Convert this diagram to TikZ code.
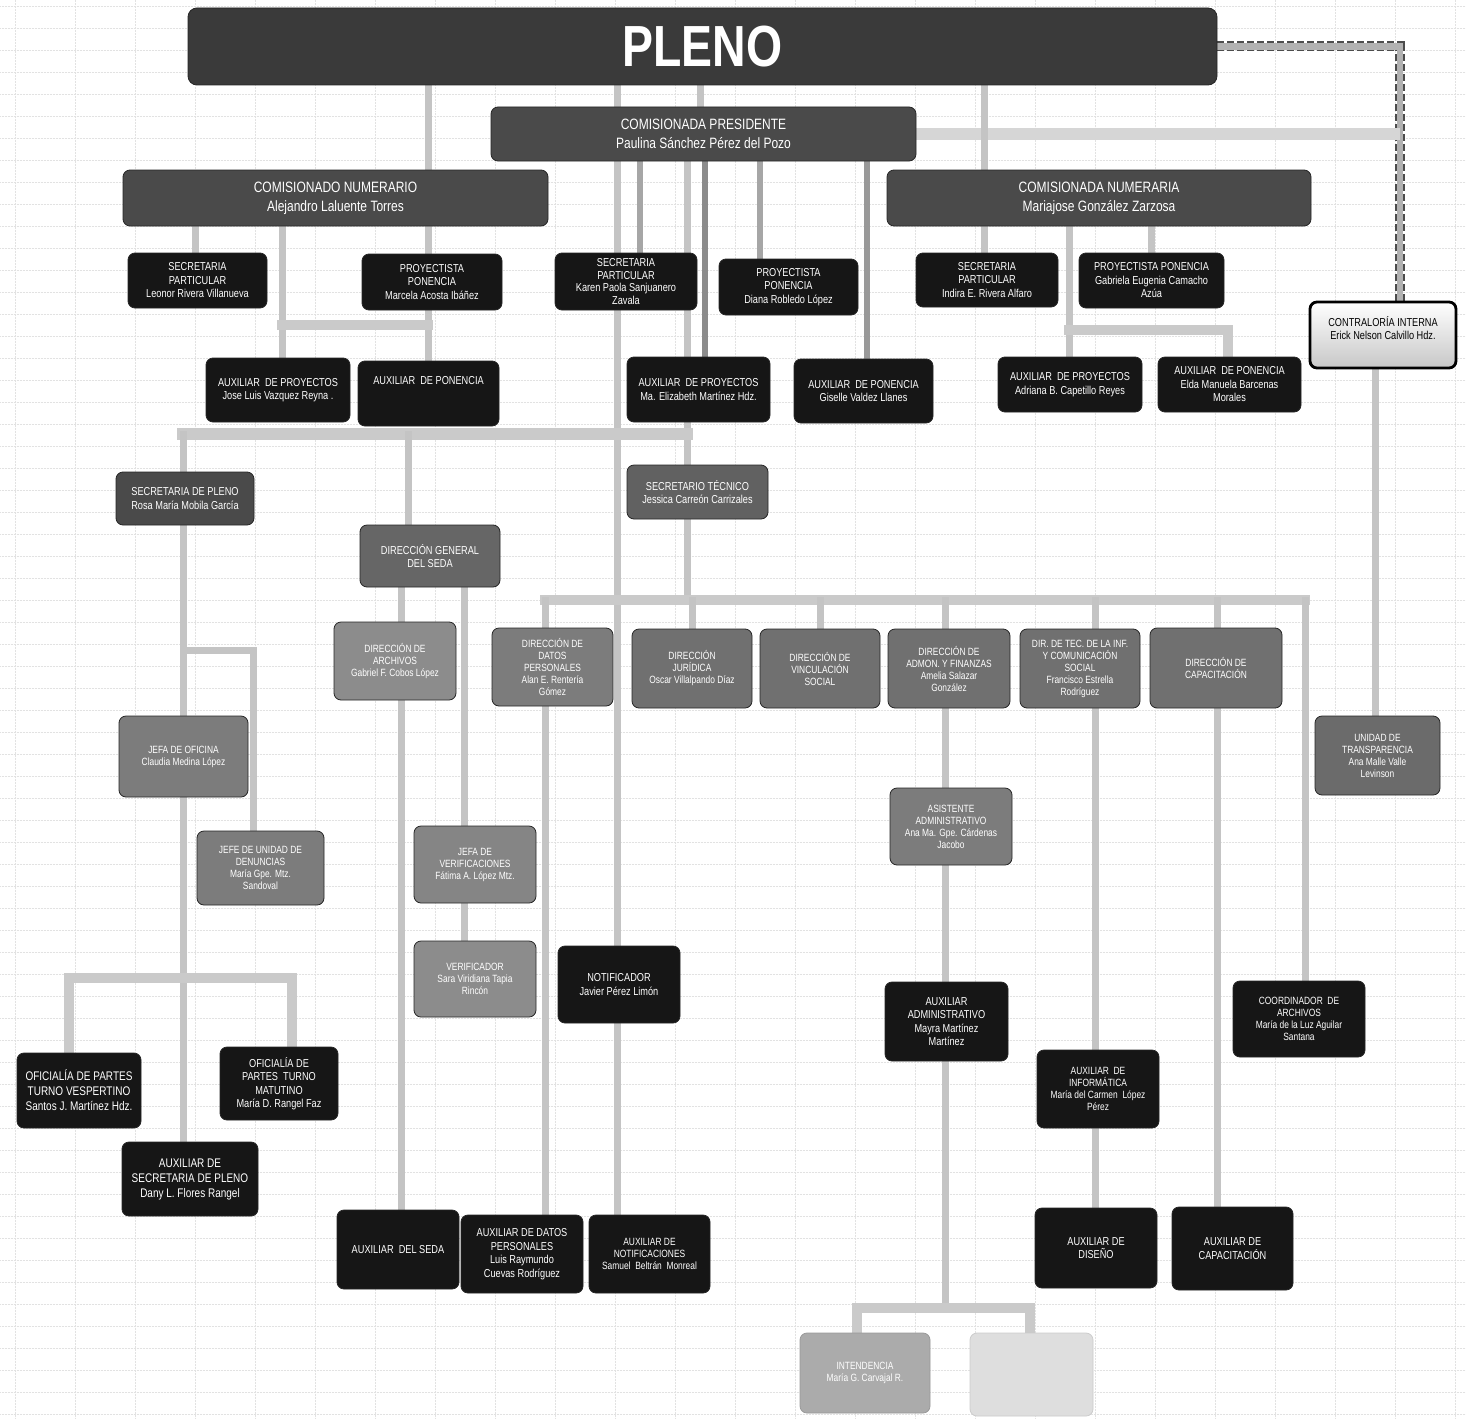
\documentclass[tikz,border=0pt]{standalone}
\usepackage{fontspec}
\newfontfamily\nar[FakeStretch=0.8]{Liberation Sans}
\usetikzlibrary{backgrounds}
\definecolor{cpleno}{HTML}{3A3A3A}
\definecolor{chead}{HTML}{4A4A4A}
\definecolor{cblk}{HTML}{161616}
\definecolor{cdir}{HTML}{707070}
\definecolor{cmid}{HTML}{7C7C7C}
\definecolor{clt}{HTML}{8C8C8C}
\definecolor{cline}{HTML}{C4C4C4}
\definecolor{cgrid}{HTML}{E2E2E2}
\tikzset{
  box/.style={draw=black!85, line width=0.8pt, rounded corners=7pt, text=white, align=center,
    inner sep=1pt, font=\nar\fontsize{11.5}{13.5}\selectfont},
  wh/.style 2 args={minimum width=#1pt, minimum height=#2pt},
  dirf/.style={font=\nar\fontsize{10.5}{12}\selectfont},
  headf/.style={font=\nar\fontsize{15}{19}\selectfont},
  conn/.style={draw=cline, line width=7pt, line cap=rect},
  connd/.style={draw=black!45, line width=6pt},
  band/.style={draw=cline!90, line width=10pt, line cap=rect, line join=miter},
  gridl/.style={draw=cgrid, line width=0.5pt, densely dotted},
}
\begin{document}
\begin{tikzpicture}[x=1pt,y=-1pt]
\useasboundingbox (0,0) rectangle (1466,1418);

% ---------------- nodes ----------------
\node[box, fill=cpleno, wh={1029}{77}, rounded corners=9pt,
  font=\nar\bfseries\fontsize{58}{58}\selectfont] (pleno) at (702.5,46.5) {PLENO};
\node[box, fill=chead, wh={425}{54}, headf] (pres) at (703.5,134) {COMISIONADA PRESIDENTE\\Paulina Sánchez Pérez del Pozo};
\node[box, fill=chead, wh={425}{56}, headf] (numL) at (335.5,198) {COMISIONADO NUMERARIO\\Alejandro Laluente Torres};
\node[box, fill=chead, wh={424}{56}, headf] (numR) at (1099,198) {COMISIONADA NUMERARIA\\Mariajose González Zarzosa};

\node[box, fill=cblk, wh={139}{55}] (spL) at (197.5,280.5) {SECRETARIA\\PARTICULAR\\Leonor Rivera Villanueva};
\node[box, fill=cblk, wh={140}{56}] (ppL) at (432,282) {PROYECTISTA\\PONENCIA\\Marcela Acosta Ibáñez};
\node[box, fill=cblk, wh={144}{64}] (apL) at (278,390) {AUXILIAR \ DE PROYECTOS\\Jose Luis Vazquez Reyna .};
\node[box, fill=cblk, wh={141}{65}] (aponL) at (428.5,393.5) {AUXILIAR \ DE PONENCIA\\ ~ \\ ~};

\node[box, fill=cblk, wh={142}{57}, font=\nar\fontsize{11.5}{12.6}\selectfont] (spC) at (626,281.5) {SECRETARIA\\PARTICULAR\\Karen Paola Sanjuanero\\Zavala};
\node[box, fill=cblk, wh={139}{56}] (ppC) at (788.5,287) {PROYECTISTA\\PONENCIA\\Diana Robledo López};
\node[box, fill=cblk, wh={143}{65}] (apC) at (698.5,389.5) {AUXILIAR \ DE PROYECTOS\\Ma. Elizabeth Martínez Hdz.};
\node[box, fill=cblk, wh={139}{64}] (aponC) at (863.5,391) {AUXILIAR \ DE PONENCIA\\Giselle Valdez Llanes};

\node[box, fill=cblk, wh={142}{54}] (spR) at (987,280) {SECRETARIA\\PARTICULAR\\Indira E. Rivera Alfaro};
\node[box, fill=cblk, wh={145}{55}] (ppR) at (1151.5,280.5) {PROYECTISTA PONENCIA\\Gabriela Eugenia Camacho\\Azúa};
\node[box, fill=cblk, wh={144}{55}] (apR) at (1070,384.5) {AUXILIAR \ DE PROYECTOS\\Adriana B. Capetillo Reyes};
\node[box, fill=cblk, wh={143}{55}] (aponR) at (1229.5,384.5) {AUXILIAR \ DE PONENCIA\\Elda Manuela Barcenas\\Morales};

\node[box, draw=black, line width=2.8pt, top color=white, bottom color=black!22, text=black,
  wh={146}{66}] (contra) at (1383,335) {CONTRALORÍA INTERNA\\Erick Nelson Calvillo Hdz.\\ ~};

\node[box, fill=chead, wh={138}{53}] (secpleno) at (185,498.5) {SECRETARIA DE PLENO\\Rosa María Mobila García};
\node[box, fill=black!62, wh={141}{54}] (sectec) at (697.5,492) {SECRETARIO TÉCNICO\\Jessica Carreón Carrizales};
\node[box, fill=black!60, wh={140}{62}] (dgseda) at (430,556) {DIRECCIÓN GENERAL\\DEL SEDA};

\node[box, fill=clt, wh={122}{78}, dirf] (dirarch) at (395,661) {DIRECCIÓN DE\\ARCHIVOS\\Gabriel F. Cobos López};
\node[box, fill=cmid, wh={121}{78}, dirf] (dirdatos) at (552.5,667) {DIRECCIÓN DE\\DATOS\\PERSONALES\\Alan E. Rentería\\Gómez};
\node[box, fill=cdir, wh={120}{79}, dirf] (dirjur) at (692,668.5) {DIRECCIÓN\\JURÍDICA\\Oscar Villalpando Díaz};
\node[box, fill=cdir, wh={120}{79}, dirf] (dirvinc) at (820,668.5) {DIRECCIÓN DE\\VINCULACIÓN\\SOCIAL};
\node[box, fill=cdir, wh={122}{79}, dirf] (diradmon) at (949,668.5) {DIRECCIÓN DE\\ADMON. Y FINANZAS\\Amelia Salazar\\González};
\node[box, fill=cdir, wh={120}{79}, dirf] (dirtec) at (1080,668.5) {DIR. DE TEC. DE LA INF.\\Y COMUNICACIÓN\\SOCIAL\\Francisco Estrella\\Rodríguez};
\node[box, fill=cdir, wh={132}{80}, dirf] (dircap) at (1216,668) {DIRECCIÓN DE\\CAPACITACIÓN};

\node[box, fill=cmid, wh={129}{81}, dirf] (jefaof) at (183.5,756.5) {JEFA DE OFICINA\\Claudia Medina López};
\node[box, fill=cmid, wh={127}{74}, dirf] (jefeden) at (260.5,868) {JEFE DE UNIDAD DE\\DENUNCIAS\\María Gpe. Mtz.\\Sandoval};
\node[box, fill=black!48, wh={122}{77}, dirf] (jefaver) at (475,864.5) {JEFA DE\\VERIFICACIONES\\Fátima A. López Mtz.};
\node[box, fill=black!45, wh={122}{76}, dirf] (verif) at (475,979) {VERIFICADOR\\Sara Viridiana Tapia\\Rincón};
\node[box, fill=cblk, wh={122}{77}] (notif) at (619,984.5) {NOTIFICADOR\\Javier Pérez Limón};
\node[box, fill=cmid, wh={122}{77}, dirf] (asist) at (951,826.5) {ASISTENTE\\ADMINISTRATIVO\\Ana Ma. Gpe. Cárdenas\\Jacobo};
\node[box, fill=cblk, wh={123}{79}] (auxadm) at (946.5,1021.5) {AUXILIAR\\ADMINISTRATIVO\\Mayra Martínez\\Martínez};
\node[box, fill=cblk, wh={132}{76}, dirf] (coordarch) at (1299,1019) {COORDINADOR \ DE\\ARCHIVOS\\María de la Luz Aguilar\\Santana};
\node[box, fill=cblk, wh={122}{78}, dirf] (auxinf) at (1098,1089) {AUXILIAR \ DE\\INFORMÁTICA\\María del Carmen \ López\\Pérez};
\node[box, fill=black!58, wh={125}{79}, dirf] (ut) at (1377.5,755.5) {UNIDAD DE\\TRANSPARENCIA\\Ana Malle Valle\\Levinson};

\node[box, fill=cblk, wh={124}{75}, font=\nar\fontsize{12.5}{15}\selectfont] (ofv) at (79,1090.5) {OFICIALÍA DE PARTES\\TURNO VESPERTINO\\Santos J. Martínez Hdz.};
\node[box, fill=cblk, wh={118}{73}] (ofm) at (279,1083.5) {OFICIALÍA DE\\PARTES \ TURNO\\MATUTINO\\María D. Rangel Faz};
\node[box, fill=cblk, wh={136}{74}, font=\nar\fontsize{12.5}{15}\selectfont] (auxsp) at (190,1179) {AUXILIAR DE\\SECRETARIA DE PLENO\\Dany L. Flores Rangel};
\node[box, fill=cblk, wh={122}{79}] (auxseda) at (398,1249.5) {AUXILIAR \ DEL SEDA};
\node[box, fill=cblk, wh={122}{78}] (auxdatos) at (522,1254) {AUXILIAR DE DATOS\\PERSONALES\\Luis Raymundo\\Cuevas Rodríguez};
\node[box, fill=cblk, wh={121}{78}, dirf] (auxnotif) at (649.5,1254) {AUXILIAR DE\\NOTIFICACIONES\\Samuel \ Beltrán \ Monreal};
\node[box, fill=cblk, wh={122}{80}] (auxdis) at (1096,1248) {AUXILIAR DE\\DISEÑO};
\node[box, fill=cblk, wh={121}{83}] (auxcap) at (1232.5,1248.5) {AUXILIAR DE\\CAPACITACIÓN};
\node[box, fill=black!33, draw=black!40, wh={130}{80}, dirf] (intend) at (865,1373) {INTENDENCIA\\María G. Carvajal R.};
\node[box, fill=black!13, draw=black!20, wh={123}{83}] (empty) at (1031.5,1374.5) {};

% ---------------- background: grid and connectors ----------------
\begin{pgfonlayer}{background}
\fill[white] (0,0) rectangle (1466,1418);
\foreach \yy in {6,28,...,1418} \draw[gridl] (0,\yy) -- (1466,\yy);
\foreach \xx in {15,75,...,1466} \draw[gridl] (\xx,0) -- (\xx,1418);

% named bend points
\coordinate (kL1) at (282,325);   \coordinate (kL2) at (428,325);
\coordinate (kR1) at (1069,330);  \coordinate (kR2) at (1228,330);
\coordinate (m1) at (183,434);    \coordinate (m2) at (687,434);  \coordinate (m3) at (408,434);
\coordinate (j1) at (183,650);    \coordinate (j2) at (253,650);
\coordinate (o1) at (69,978);     \coordinate (o2) at (292,978);
\coordinate (d1) at (545,600);    \coordinate (d2) at (1305,600);  \coordinate (d0) at (687,600);
\coordinate (i0) at (945,1308);   \coordinate (i1) at (857,1308); \coordinate (i2) at (1030,1308);
\coordinate (c1) at (1400,46.5);  \coordinate (c2) at (1400,134);

% pleno -> contraloria (dashed band)
\draw[line width=10pt, draw=black!70, dash pattern=on 7pt off 3pt] (pleno.east) -- (c1) -- (contra.north -| c1);
\draw[line width=6.5pt, draw=black!30] (pleno.east) -- (c1) -- (contra.north -| c1);
% presidente band to the right
\draw[band, draw=black!16, line width=12pt, line cap=butt] (pres.east) -- (c2);

% pleno -> comisionados
\draw[conn] (pleno.south -| kL2) -- (numL.north -| kL2);
\draw[conn] (pleno.south -| 617,0) -- (pres.north -| 617,0);
\draw[conn] (pleno.south -| 700,0) -- (pres.north -| 700,0);
\draw[conn] (pleno.south -| 984,0) -- (numR.north -| 984,0);

% presidente ponencia
\draw[conn] (pres.south -| 617,0) -- (notif.north -| 617,0);
\draw[conn] (notif.south -| 617,0) -- (auxnotif.north -| 617,0);
\draw[conn, draw=black!35, line width=6pt] (pres.south -| 640,0) -- (spC.north -| 640,0);
\draw[conn] (pres.south -| m2) -- (sectec.north -| m2);
\draw[connd] (pres.south -| 705,0) -- (apC.north -| 705,0);
\draw[conn, draw=black!35, line width=6pt] (pres.south -| 760,0) -- (ppC.north -| 760,0);
\draw[conn, draw=black!40, line width=6pt] (pres.south -| 867,0) -- (aponC.north -| 867,0);

% numerario ponencia
\draw[conn] (numL.south -| 195,0) -- (spL.north -| 195,0);
\draw[conn] (numL.south -| kL1) -- (apL.north -| kL1);
\draw[conn] (numL.south -| kL2) -- (ppL.north -| kL2);
\draw[conn] (ppL.south -| kL2) -- (aponL.north -| kL2);
\draw[band] (kL1) -- (kL2);

% numeraria ponencia
\draw[conn] (numR.south -| 984,0) -- (spR.north -| 984,0);
\draw[conn] (numR.south -| kR1) -- (apR.north -| kR1);
\draw[conn] (numR.south -| 1151,0) -- (ppR.north -| 1151,0);
\draw[band] (kR1) -- (kR2) -- (aponR.north -| kR2);

% contraloria -> transparencia
\draw[conn] (contra.south -| 1375,0) -- (ut.north -| 1375,0);

% upper level band
\draw[band, line width=12pt] (m1) -- (m2);
\draw[conn] (m1) -- (secpleno.north -| m1);
\draw[conn] (secpleno.south -| m1) -- (auxsp.north -| m1);
\draw[conn] (j1) -- (j2) -- (jefeden.north -| j2);
\draw[conn] (m3) -- (dgseda.north -| m3);
\draw[conn] (dgseda.south -| 401,0) -- (auxseda.north -| 401,0);
\draw[conn] (dgseda.south -| 464,0) -- (jefaver.north -| 464,0);
\draw[conn] (jefaver.south -| 464,0) -- (verif.north -| 464,0);
\draw[band] (ofv.north -| o1) -- (o1) -- (o2) -- (ofm.north -| o2);

% directions band
\draw[conn] (sectec.south -| d0) -- (d0);
\draw[band] (d1) -- (d2);
\draw[conn] (d1) -- (auxdatos.north -| d1);
\draw[conn] (692,600) -- (dirjur.north -| 692,0);
\draw[conn] (820,600) -- (dirvinc.north -| 820,0);
\draw[conn] (945,600) -- (diradmon.north -| 945,0);
\draw[conn] (1095,600) -- (dirtec.north -| 1095,0);
\draw[conn] (1217,600) -- (dircap.north -| 1217,0);
\draw[conn] (d2) -- (coordarch.north -| d2);
\draw[conn] (diradmon.south -| i0) -- (asist.north -| i0);
\draw[conn] (asist.south -| i0) -- (auxadm.north -| i0);
\draw[conn] (auxadm.south -| i0) -- (i0);
\draw[band] (intend.north -| i1) -- (i1) -- (i2) -- (empty.north -| i2);
\draw[conn] (dirtec.south -| 1095,0) -- (auxinf.north -| 1095,0);
\draw[conn] (auxinf.south -| 1095,0) -- (auxdis.north -| 1095,0);
\draw[conn] (dircap.south -| 1217,0) -- (auxcap.north -| 1217,0);
\end{pgfonlayer}
\end{tikzpicture}
\end{document}
